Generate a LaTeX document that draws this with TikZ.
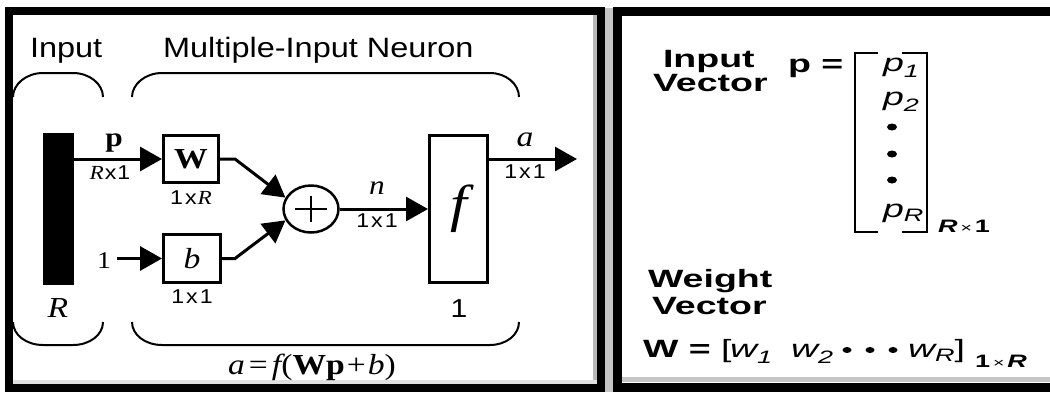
\documentclass[tikz,border=0pt]{standalone}
\usepackage{fontspec}
\usetikzlibrary{arrows.meta,shapes.geometric}
\newfontfamily\lsans[FakeStretch=1.16]{Liberation Sans}
\newfontfamily\lser[FakeStretch=1.16]{Liberation Serif}
\newfontfamily\rsans[FakeStretch=1.5]{Liberation Sans}
\newcommand\fsz[1]{\fontsize{#1}{#1}\selectfont}
\begin{document}
\begin{tikzpicture}[x=1pt,y=-1pt,
  txt/.style={inner sep=0pt, outer sep=0pt},
  blk/.style={draw, line width=3pt, inner sep=0pt, rectangle},
  conn/.style={line width=3pt, -{Triangle[length=22pt,width=24pt]}},
  bracestyle/.style={line width=2pt},
  dimlab/.style={txt, font=\lsans\fsz{20}},
  vecdot/.style={fill=black, ellipse, inner sep=0pt, minimum width=10pt, minimum height=7pt}]
\useasboundingbox (0,0) rectangle (1050,392);
% frames and shadows
\fill[gray!55] (593,15) rectangle (597,384);
\fill[gray!25] (13,380) rectangle (597,384);
\fill[gray!45] (605,8) rectangle (613,392);
\fill[gray!45] (622,377) rectangle (1050,382);
\draw[line width=8pt] (9,11) rectangle (601,388);
\draw[line width=9pt] (1060,11.5) -- (617.5,11.5) -- (617.5,387) -- (1060,387);

% ---------- left panel ----------
\node[txt, anchor=base west, font=\lsans\fsz{28}] (tin) at (30,57) {Input};
\node[txt, anchor=base west, font=\lsans\fsz{28}] (tneu) at (163,57) {Multiple-Input Neuron};

\draw[bracestyle] (13,97) .. controls (13,84) and (26.5,73) .. (43,73) -- (73,73) .. controls (89.5,73) and (103,84) .. (103,97);
\draw[bracestyle] (132,97) .. controls (132,84) and (145.5,73) .. (162,73) -- (490,73) .. controls (506,73) and (519,84) .. (519,97);
\draw[bracestyle] (13,322) .. controls (13,335) and (26.5,345) .. (43,345) -- (73,345) .. controls (89.5,345) and (103,335) .. (103,322);
\draw[bracestyle] (132,322) .. controls (132,335) and (145.5,345) .. (162,345) -- (490,345) .. controls (506,345) and (519,335) .. (519,322);

\node[fill=black, inner sep=0pt, minimum width=31pt, minimum height=152pt] (bar) at (58.5,209) {};
\node[blk, minimum width=55pt, minimum height=47pt] (W) at (191,159) {\lser\fsz{29}\bfseries W};
\node[blk, minimum width=57pt, minimum height=48pt] (b) at (192,258.5) {\lser\fsz{29}\itshape b};
\node[blk, minimum width=58pt, minimum height=147pt] (f) at (458.5,209) {\lser\fsz{52}\itshape f};
\node[draw, ellipse, line width=2.5pt, inner sep=0pt, minimum width=55pt, minimum height=47pt] (sum) at (311,209) {};
\draw[line width=2.5pt] (sum.center) ++(-16,0) -- ++(32,0);
\draw[line width=2.5pt] (sum.center) ++(0,-13) -- ++(0,26);

\node[txt, anchor=base, font=\lser\fsz{27}\bfseries] (lp) at (114,146) {p};
\node[dimlab] (lrx1) at (110,173) {{\lser\itshape R}\kern1pt x\kern1pt 1};
\node[dimlab] (l1xr) at (191,198) {1\kern2pt x\kern1pt{\lser\itshape R}};
\node[txt, anchor=base, font=\lser\fsz{24}] (one) at (104,268) {1};
\node[dimlab] (l1x1b) at (192,297) {1\kern2pt x\kern2pt 1};
\node[txt, anchor=base, font=\lser\fsz{27}\itshape] (ln) at (377,194) {n};
\node[dimlab] (l1x1n) at (377,221) {1\kern2pt x\kern2pt 1};
\node[txt, anchor=base, font=\lser\fsz{29}\itshape] (la) at (525,146) {a};
\node[dimlab] (l1x1a) at (525,172) {1\kern2pt x\kern2pt 1};
\node[txt, anchor=base, font=\lsans\fsz{26}] (lone) at (459,317) {1};
\node[txt, anchor=base, font=\lser\fsz{29}\itshape] (lR) at (58,317) {R};
\node[txt, anchor=base, font=\lser\fsz{29}] (eq) at (312,374) {\itshape a\kern4pt\upshape=\kern4pt\itshape f\upshape(\bfseries Wp\mdseries\kern2pt+\kern2pt\itshape b\upshape)};

\coordinate (aout) at (577,159);
\draw[conn] (bar.east |- W.west) -- (W.west);
\draw[conn] ([xshift=6pt]one.east |- b.west) -- (b.west);
\draw[conn] (W.east) -- ++(15,0) -- (sum.156);
\draw[conn] (b.east) -- ++(13,0) -- (sum.204);
\draw[conn] (sum.east) -- (f.west |- sum.east);
\draw[conn] (f.east |- aout) -- (aout);

% ---------- right panel ----------
\node[txt, anchor=base west, font=\rsans\bfseries\fsz{25}] (rin) at (663,67) {Input};
\node[txt, anchor=base west, font=\rsans\bfseries\fsz{25}] (rvec) at (653,91) {Vector};
\node[txt, anchor=base west, font=\rsans\bfseries\fsz{25}] (peq) at (788,72) {p =};
\draw[line width=2pt] (878,53) -- (855,53) -- (855,232) -- (878,232);
\draw[line width=2pt] (902,53) -- (927,53) -- (927,232) -- (902,232);
\node[txt, anchor=base west, font=\rsans\itshape\fsz{25}] (p1) at (883,71) {p\raisebox{-6pt}{\fsz{18}1}};
\node[txt, anchor=base west, font=\rsans\itshape\fsz{25}] (p2) at (883,105) {p\raisebox{-6pt}{\fsz{18}2}};
\node[vecdot] (d1) at (892,127) {};
\node[vecdot] (d2) at (892,154) {};
\node[vecdot] (d3) at (892,180) {};
\node[txt, anchor=base west, font=\rsans\itshape\fsz{25}] (pR) at (883,217) {p\raisebox{-4pt}{\fsz{18}R}};
\node[txt, anchor=base west, font=\rsans\fsz{18}] (rx1) at (938,232) {\bfseries\itshape R\kern3pt\mdseries\upshape{\fsz{13}×}\kern3pt\bfseries 1};

\node[txt, anchor=base west, font=\rsans\bfseries\fsz{25}] (rwe) at (648,287) {Weight};
\node[txt, anchor=base west, font=\rsans\bfseries\fsz{25}] (rve2) at (652,314) {Vector};
\node[txt, anchor=base west, font=\rsans\fsz{25}] (weq) at (643,357) {\bfseries W = \mdseries[};
\node[txt, anchor=base west, font=\rsans\itshape\fsz{25}] (w1) at (730,357) {w\raisebox{-6pt}{\fsz{18}1}};
\node[txt, anchor=base west, font=\rsans\itshape\fsz{25}] (w2) at (791,357) {w\raisebox{-6pt}{\fsz{18}2}};
\node[vecdot, minimum width=9pt, minimum height=6pt] (wd1) at (847,350) {};
\node[vecdot, minimum width=9pt, minimum height=6pt] (wd2) at (870,350) {};
\node[vecdot, minimum width=9pt, minimum height=6pt] (wd3) at (893,350) {};
\node[txt, anchor=base west, font=\rsans\itshape\fsz{25}] (wR) at (908,357) {w\raisebox{-4pt}{\fsz{18}R}\upshape]};
\node[txt, anchor=base west, font=\rsans\fsz{18}] (oxr) at (975,367) {\bfseries 1\kern3pt\mdseries{\fsz{13}×}\kern3pt\bfseries\itshape R};
\end{tikzpicture}
\end{document}
